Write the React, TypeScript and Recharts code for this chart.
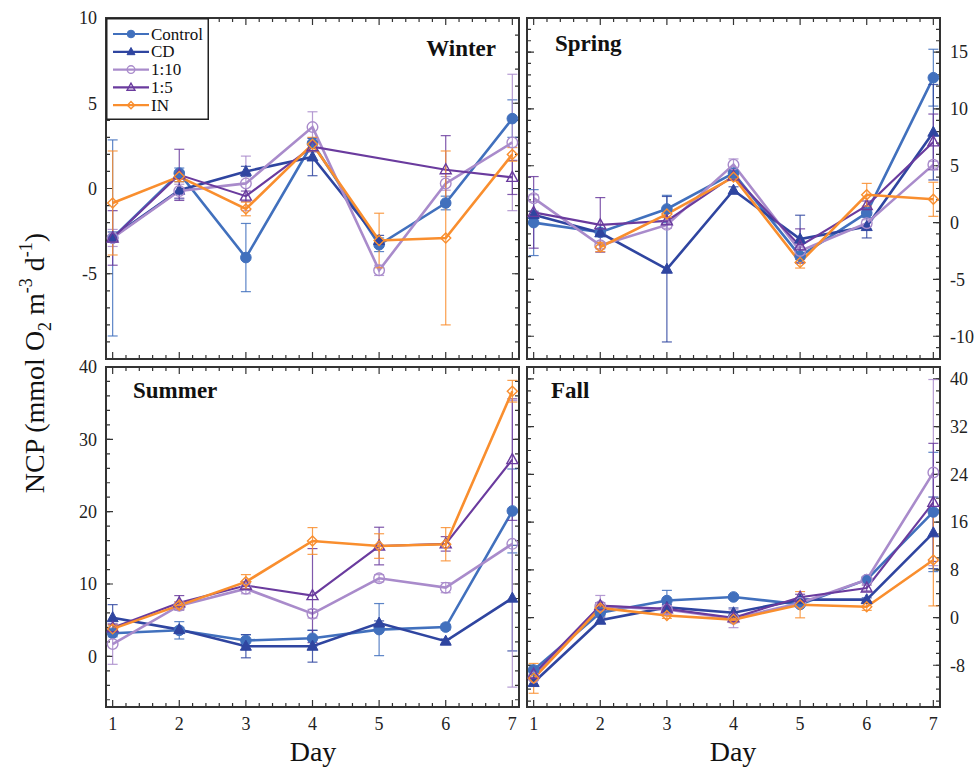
import React from 'react';
import { LineChart, Line, XAxis, YAxis, CartesianGrid, ReferenceArea, ErrorBar, Legend } from 'recharts';

const days = [1, 2, 3, 4, 5, 6, 7];
const seriesNames = ['Control', 'CD', '1:10', '1:5', 'IN'];
const seriesColors = ['#4170bd', '#2f45a0', '#a98bcb', '#6a3b9e', '#f98e2e'];
const markerKinds = ['filledCircle', 'filledTriangle', 'openCircle', 'openTriangle', 'openDiamond'];

// Winter
const winterControl = [-2.9, 0.9, -4.05, 2.65, -3.3, -0.85, 4.1];
const winterCD = [-2.85, -0.1, 1.0, 1.85, -3.05, null, null];
const winter110 = [-2.9, -0.15, 0.3, 3.6, -4.8, 0.3, 2.7];
const winter15 = [-2.9, 0.8, -0.45, 2.45, null, 1.1, 0.65];
const winterIN = [-0.85, 0.7, -1.2, 2.6, -3.05, -2.9, 2.0];
const winterControlErr = [5.75, 0.3, 2.0, 0.3, 0.4, 0.4, 1.1];
const winterCDErr = [0.3, 0.5, 0.3, 1.1, 0.3, null, null];
const winter110Err = [0.5, 0.4, 1.6, 0.9, 0.3, 0.4, 4.0];
const winter15Err = [1.6, 1.5, 0.3, 0.3, null, 2.0, 1.0];
const winterINErr = [3.05, 0.3, 0.4, 0.4, 1.6, 5.1, 0.4];

// Spring
const springControl = [0.0, -0.85, 1.2, 4.35, -2.95, 0.85, 12.75];
const springCD = [0.7, -0.9, -4.1, 2.85, -1.45, -0.35, 7.95];
const spring110 = [2.15, -2.0, -0.2, 5.1, -2.5, -0.05, 5.1];
const spring15 = [0.9, -0.2, 0.15, 4.1, -2.05, 1.5, 7.1];
const springIN = [null, -2.15, 0.75, 4.0, -3.5, 2.45, 2.05];
const springControlErr = [2.9, 0.3, 1.2, 0.3, 0.3, 0.4, 2.5];
const springCDErr = [0.3, 0.3, 6.4, 0.3, 2.1, 1.0, 4.2];
const spring110Err = [0.3, 0.3, 0.3, 0.5, 0.3, 0.3, 0.3];
const spring15Err = [3.15, 2.4, 0.3, 0.3, 1.5, 0.4, 2.45];
const springINErr = [null, 0.4, 0.3, 0.3, 0.5, 1.0, 1.5];

// Summer
const summerControl = [3.2, 3.6, 2.2, 2.5, 3.7, 4.05, 20.1];
const summerCD = [5.35, 3.7, 1.4, 1.4, 4.6, 2.1, 8.05];
const summer110 = [1.7, 7.0, 9.35, 5.9, 10.8, 9.5, 15.55];
const summer15 = [3.95, 7.4, 9.8, 8.4, 15.25, 15.55, 27.2];
const summerIN = [3.8, 7.05, 10.3, 15.95, 15.25, 15.5, 36.65];
const summerControlErr = [0.5, 1.2, 0.8, 1.1, 3.6, 0.4, 5.8];
const summerCDErr = [1.8, 0.3, 1.6, 2.2, 0.3, 0.3, 7.3];
const summer110Err = [2.8, 0.5, 0.7, 0.6, 0.5, 0.7, 19.8];
const summer15Err = [0.5, 1.0, 0.5, 6.5, 2.6, 1.0, 8.4];
const summerINErr = [0.5, 0.5, 1.0, 1.85, 1.7, 2.3, 1.5];

// Fall
const fallControl = [-8.8, 0.8, 2.85, 3.45, 2.2, 6.35, 17.7];
const fallCD = [-10.9, -0.45, 1.7, 0.8, 3.0, 3.0, 14.2];
const fall110 = [-10.05, 1.9, 1.35, -0.2, 2.45, 6.35, 24.3];
const fall15 = [-9.5, 2.0, 1.45, -0.05, 3.4, 4.95, 19.3];
const fallIN = [-10.2, 1.6, 0.35, -0.35, 2.15, 1.8, 9.65];
const fallControlErr = [0.5, 0.5, 1.7, 0.3, 0.3, 0.5, 10.0];
const fallCDErr = [0.5, 0.5, 0.5, 0.8, 0.3, 0.3, 6.0];
const fall110Err = [0.5, 1.8, 0.5, 1.5, 0.5, 0.5, 15.6];
const fall15Err = [0.5, 0.5, 0.5, 0.5, 0.5, 0.5, 9.9];
const fallINErr = [2.5, 0.5, 0.5, 0.5, 2.2, 0.6, 7.7];

// axis tick labels
const winterTicks = [-5, 0, 5, 10];
const springTicks = [-10, -5, 0, 5, 10, 15];
const summerTicks = [0, 10, 20, 30, 40];
const fallTicks = [-8, 0, 8, 16, 24, 32, 40];

const FONT = '"Liberation Serif", "Times New Roman", serif';
const PLOT_W = 413;
const AXIS_COLOR = '#333';

const range = (start: number, stop: number, step: number) => {
  const out: number[] = [];
  for (let v = start; v <= stop + 1e-9; v += step) out.push(Math.round(v * 1000) / 1000);
  return out;
};

const buildRows = (vals: (number | null)[][], errs: (number | null)[][]) =>
  days.map((d, i) => {
    const row: any = { day: d };
    vals.forEach((v, s) => {
      row[`v${s}`] = v[i];
      row[`e${s}`] = v[i] == null ? null : errs[s][i];
    });
    return row;
  });

const marker = (kind: string, color: string, cx: number, cy: number, key?: any, scale = 1) => {
  const r = 5.3 * scale;
  const tri = `${cx},${cy - 6 * scale} ${cx - 5.5 * scale},${cy + 4 * scale} ${cx + 5.5 * scale},${cy + 4 * scale}`;
  switch (kind) {
    case 'filledCircle':
      return <circle key={key} cx={cx} cy={cy} r={r} fill={color} stroke={color} />;
    case 'filledTriangle':
      return <polygon key={key} points={tri} fill={color} stroke={color} />;
    case 'openCircle':
      return <circle key={key} cx={cx} cy={cy} r={r} fill="none" stroke={color} strokeWidth={1.4} />;
    case 'openTriangle':
      return <polygon key={key} points={tri} fill="none" stroke={color} strokeWidth={1.4} />;
    default:
      return (
        <polygon key={key} points={`${cx},${cy - 5 * scale} ${cx + 5 * scale},${cy} ${cx},${cy + 5 * scale} ${cx - 5 * scale},${cy}`}
          fill="none" stroke={color} strokeWidth={1.4} />
      );
  }
};

const makeDot = (s: number) => (props: any) => {
  const { cx, cy, value, index } = props;
  if (value == null || cx == null || cy == null) return <g key={`d${s}-${index}`} />;
  return marker(markerKinds[s], seriesColors[s], cx, cy, `d${s}-${index}`);
};

const textStyle = { fontFamily: FONT, fill: '#111' };

const LegendBox = () => (
  <svg width={103} height={102} style={{ display: 'block' }}>
    <rect x={0.75} y={0.75} width={101.5} height={100.5} fill="#fff" stroke="#222" strokeWidth={1.5} />
    {seriesNames.map((name, s) => {
      const cy = 16 + s * 17.8;
      return (
        <g key={name}>
          <line x1={7} x2={43} y1={cy} y2={cy} stroke={seriesColors[s]} strokeWidth={2.2} />
          {marker(markerKinds[s], seriesColors[s], 25, cy, undefined, 0.72)}
          <text x={45} y={cy + 5.5} style={{ ...textStyle, fontSize: 17 }}>{name}</text>
        </g>
      );
    })}
  </svg>
);

const makeTick = (kind: 'x' | 'left' | 'right') => (props: any) => {
  const { x, y, payload, index } = props;
  const anchor = kind === 'x' ? 'middle' : kind === 'left' ? 'end' : 'start';
  const dy = kind === 'x' ? '0.71em' : '0.355em';
  return (
    <text key={`t-${index}`} x={x} y={y} dy={dy} textAnchor={anchor} style={{ ...textStyle, fontSize: 18, fill: '#222' }}>
      {payload.value}
    </text>
  );
};

type PanelProps = {
  rows: any[];
  side: 'left' | 'right';
  bottom: boolean;
  yDomain: [number, number];
  yLabels: number[];
  yMajor: number[];
  yMinor: number[];
  legend?: boolean;
};

const xMajor = days;
const xMinor = range(1.2, 6.8, 0.2).filter((v) => Math.abs(v - Math.round(v)) > 0.01);

const Panel = ({ rows, side, bottom, yDomain, yLabels, yMajor, yMinor, legend }: PanelProps) => {
  const plotH = bottom ? 340 : 341;
  const yW = side === 'left' ? 50 : 40;
  const margin = {
    top: bottom ? 14 : 18,
    bottom: bottom ? 0 : 6,
    left: side === 'left' ? 0 : 7,
    right: side === 'left' ? 7 : 0,
  };
  const width = PLOT_W + yW + 7;
  const height = plotH + margin.top + margin.bottom + (bottom ? 40 : 0);
  const left = side === 'left' ? 106 - yW : 527 - 7;
  const top = bottom ? 367 - margin.top : 18 - margin.top;
  const dash = (len: number, total: number) => `${len} ${total - 2 * len} ${len}`;

  return (
    <div style={{ position: 'absolute', left, top, width, height }}>
      <LineChart width={width} height={height} data={rows} margin={margin}>
        <CartesianGrid horizontal={false} verticalValues={xMinor} stroke={AXIS_COLOR} strokeWidth={1.2}
          strokeDasharray={dash(4, plotH)} />
        <CartesianGrid horizontal={false} verticalValues={xMajor} stroke={AXIS_COLOR} strokeWidth={1.2}
          strokeDasharray={dash(7, plotH)} />
        <CartesianGrid vertical={false} horizontalValues={yMinor} stroke={AXIS_COLOR} strokeWidth={1.2}
          strokeDasharray={dash(4, PLOT_W)} />
        <CartesianGrid vertical={false} horizontalValues={yMajor} stroke={AXIS_COLOR} strokeWidth={1.2}
          strokeDasharray={dash(7, PLOT_W)} />
        <XAxis dataKey="day" type="number" domain={[0.9, 7.1]} ticks={days} interval={0} allowDataOverflow
          hide={!bottom} axisLine={false} tickLine={false} tickSize={0} tickMargin={10} height={40} tick={makeTick('x')} />
        <YAxis type="number" domain={yDomain} ticks={yLabels} interval={0} allowDataOverflow orientation={side}
          width={yW} axisLine={false} tickLine={false} tickSize={0} tickMargin={side === 'left' ? 9 : 10}
          tick={makeTick(side)} />
        <ReferenceArea x1={0.9} x2={7.1} y1={yDomain[0]} y2={yDomain[1]} fill="none" stroke={AXIS_COLOR}
          strokeWidth={2} ifOverflow="visible" />
        {seriesNames.map((name, s) => (
          <Line key={name} name={name} type="linear" dataKey={`v${s}`} stroke={seriesColors[s]}
            strokeWidth={s === 3 ? 2.1 : 2.6} dot={makeDot(s)} activeDot={false} connectNulls isAnimationActive={false}>
            <ErrorBar dataKey={`e${s}`} direction="y" width={5} stroke={seriesColors[s]} strokeWidth={1.2}
              strokeOpacity={0.85} />
          </Line>
        ))}
        {legend && (
          <Legend layout="vertical" align="center" verticalAlign="middle"
            wrapperStyle={{ left: yW, top: margin.top, width: 103, height: 102 }} content={() => <LegendBox />} />
        )}
      </LineChart>
    </div>
  );
};

const winterRows = buildRows(
  [winterControl, winterCD, winter110, winter15, winterIN],
  [winterControlErr, winterCDErr, winter110Err, winter15Err, winterINErr]
);
const springRows = buildRows(
  [springControl, springCD, spring110, spring15, springIN],
  [springControlErr, springCDErr, spring110Err, spring15Err, springINErr]
);
const summerRows = buildRows(
  [summerControl, summerCD, summer110, summer15, summerIN],
  [summerControlErr, summerCDErr, summer110Err, summer15Err, summerINErr]
);
const fallRows = buildRows(
  [fallControl, fallCD, fall110, fall15, fallIN],
  [fallControlErr, fallCDErr, fall110Err, fall15Err, fallINErr]
);

export default function App() {
  const titleStyle = { fontFamily: FONT, fontSize: 23, fontWeight: 700, fill: '#111' } as const;
  const bigStyle = { fontFamily: FONT, fontSize: 28, fill: '#111' } as const;
  return (
    <div style={{ position: 'absolute', left: 0, top: 0, width: 978, height: 774, overflow: 'hidden', background: '#fff' }}>
      <Panel rows={winterRows} side="left" bottom={false} yDomain={[-10, 10]} yLabels={winterTicks}
        yMajor={range(-10, 10, 5)} yMinor={range(-9, 9, 1)} legend />
      <Panel rows={springRows} side="right" bottom={false} yDomain={[-12, 18]} yLabels={springTicks}
        yMajor={range(-10, 15, 5)} yMinor={range(-11, 17, 1)} />
      <Panel rows={summerRows} side="left" bottom yDomain={[-7, 40]} yLabels={summerTicks}
        yMajor={range(0, 40, 10)} yMinor={range(-6, 38, 2)} />
      <Panel rows={fallRows} side="right" bottom yDomain={[-15, 42]} yLabels={fallTicks}
        yMajor={range(-8, 40, 8)} yMinor={range(-14, 42, 2)} />
      <svg width={978} height={774} style={{ position: 'absolute', left: 0, top: 0, pointerEvents: 'none' }}>
        <text x={496} y={56} textAnchor="end" style={titleStyle}>Winter</text>
        <text x={555} y={51} style={titleStyle}>Spring</text>
        <text x={133} y={398} style={titleStyle}>Summer</text>
        <text x={551} y={398} style={titleStyle}>Fall</text>
        <text x={313} y={761} textAnchor="middle" style={bigStyle}>Day</text>
        <text x={733} y={761} textAnchor="middle" style={bigStyle}>Day</text>
        <text transform="translate(44,363) rotate(-90)" textAnchor="middle" style={bigStyle}>
          NCP (mmol O<tspan fontSize={18} dy={7}>2</tspan>
          <tspan dy={-7}> m</tspan>
          <tspan fontSize={18} dy={-12}>-3</tspan>
          <tspan dy={12}> d</tspan>
          <tspan fontSize={18} dy={-12}>-1</tspan>
          <tspan dy={12}>)</tspan>
        </text>
      </svg>
    </div>
  );
}
